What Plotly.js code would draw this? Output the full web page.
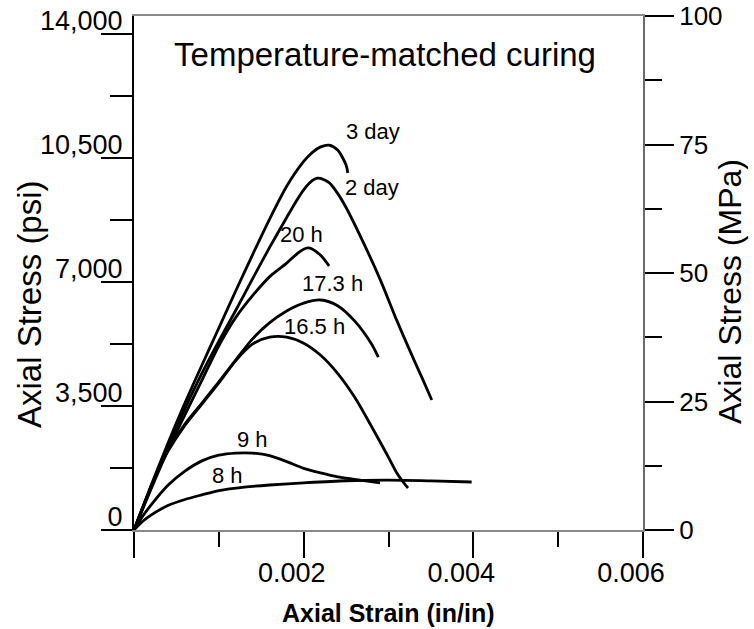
<!DOCTYPE html>
<html>
<head>
<meta charset="utf-8">
<script src="https://cdn.plot.ly/plotly-3.0.1.min.js"></script>
<style>html,body{margin:0;padding:0;background:#fff;}#chart{width:754px;height:629px;}</style>
</head>
<body>
<div id="chart"></div>
<script>
// ---- Data (strain in in/in, stress in psi) ----
const seriesNames = ["3 day", "2 day", "20 h", "17.3 h", "16.5 h", "9 h", "8 h"];

const strain3d = [0, 0.0002, 0.0004, 0.0006, 0.0008, 0.001, 0.0012, 0.0014, 0.0016, 0.0018, 0.002, 0.0021, 0.0022, 0.0023, 0.0024, 0.0025, 0.00252];
const stress3d = [0, 1250, 2450, 3580, 4650, 5700, 6750, 7780, 8780, 9700, 10400, 10650, 10810, 10860, 10720, 10300, 10075];

const strain2d = [0, 0.0002, 0.0004, 0.0006, 0.0008, 0.001, 0.0012, 0.0014, 0.0016, 0.0018, 0.0019, 0.002, 0.0021, 0.00216, 0.0022, 0.0023, 0.0024, 0.0025, 0.0027, 0.0029, 0.0031, 0.0033, 0.0034, 0.00351];
const stress2d = [0, 1200, 2350, 3420, 4420, 5330, 6200, 7100, 7980, 8820, 9230, 9600, 9860, 9930, 9920, 9800, 9500, 9100, 8130, 7080, 5900, 4800, 4270, 3670];

const strain20h = [0, 0.0002, 0.0004, 0.0006, 0.0008, 0.001, 0.0012, 0.0014, 0.0016, 0.0018, 0.0019, 0.002, 0.00205, 0.0021, 0.0022, 0.0023];
const stress20h = [0, 1150, 2250, 3250, 4220, 5200, 6000, 6620, 7150, 7530, 7750, 7920, 7960, 7930, 7750, 7450];

const strain173h = [0, 0.0001, 0.0002, 0.0003, 0.0004, 0.0006, 0.0008, 0.001, 0.0012, 0.0014, 0.0016, 0.0018, 0.002, 0.0022, 0.0024, 0.0026, 0.0028, 0.00288];
const stress173h = [0, 620, 1220, 1780, 2260, 2990, 3580, 4180, 4800, 5400, 5850, 6180, 6400, 6490, 6330, 5900, 5250, 4880];

const strain165h = [0, 0.0001, 0.0002, 0.0003, 0.0004, 0.0006, 0.0008, 0.001, 0.0012, 0.0014, 0.0016, 0.0018, 0.002, 0.0022, 0.0024, 0.0026, 0.0028, 0.003, 0.0031, 0.0032, 0.00323];
const stress165h = [0, 610, 1200, 1750, 2220, 2950, 3550, 4150, 4780, 5250, 5440, 5440, 5270, 4930, 4420, 3750, 2920, 2050, 1600, 1270, 1185];

const strain9h = [0, 0.0001, 0.0002, 0.0004, 0.0006, 0.0008, 0.001, 0.0012, 0.0014, 0.0016, 0.0018, 0.002, 0.0022, 0.0024, 0.0026, 0.0029];
const stress9h = [0, 380, 700, 1260, 1660, 1950, 2110, 2170, 2170, 2100, 1930, 1740, 1610, 1500, 1430, 1330];

const strain8h = [0, 0.0001, 0.0002, 0.0004, 0.0006, 0.0008, 0.001, 0.0013, 0.0016, 0.002, 0.0025, 0.003, 0.0035, 0.00398];
const stress8h = [0, 240, 420, 690, 860, 990, 1110, 1210, 1270, 1330, 1390, 1405, 1385, 1355];

const xTickVals = [0, 0.002, 0.004, 0.006];
const xTickText = ["", "0.002", "0.004", "0.006"];
const yTickVals = [0, 3500, 7000, 10500, 14000];
const yTickText = ["0", "3,500", "7,000", "10,500", "14,000"];
const y2TickVals = [0, 25, 50, 75, 100];
const y2TickText = ["0", "25", "50", "75", "100"];

const PSI_PER_MPA = 145.04;

// ---- Build ----
const FONT = "Liberation Sans, Arial, Helvetica, sans-serif";
const xs = [strain3d, strain2d, strain20h, strain173h, strain165h, strain9h, strain8h];
const ys = [stress3d, stress2d, stress20h, stress173h, stress165h, stress9h, stress8h];

const traces = seriesNames.map((n, i) => ({
  type: "scatter", mode: "lines", name: n,
  x: xs[i], y: ys[i],
  line: {color: "#000", width: 2.8, shape: "spline", smoothing: 0.8},
  showlegend: false, hoverinfo: "skip"
}));

// label placement (data coordinates near each curve)
const labelPos = [
  [0.002817, 11232], [0.002806, 9651], [0.001974, 8325], [0.00234, 6942],
  [0.002122, 5729], [0.001397, 2540], [0.001102, 1552]
];
const annotations = seriesNames.map((n, i) => ({
  text: n, x: labelPos[i][0], y: labelPos[i][1], xref: "x", yref: "y",
  showarrow: false, xanchor: "center", yanchor: "middle",
  font: {family: FONT, size: 22, color: "#000"}
}));
annotations.push({
  text: "Axial Stress (psi)", xref: "paper", yref: "paper",
  x: (29 - 134) / 509, y: (530 - 304) / 514, textangle: -90,
  showarrow: false, xanchor: "center", yanchor: "middle",
  font: {family: FONT, size: 33, color: "#000"}
});
annotations.push({
  text: "Axial Stress (MPa)", xref: "paper", yref: "paper",
  x: (730 - 134) / 509, y: (530 - 292) / 514, textangle: -90,
  showarrow: false, xanchor: "center", yanchor: "middle",
  font: {family: FONT, size: 32, color: "#000"}
});
annotations.push({
  text: "<b>Axial Strain (in/in)</b>", xref: "paper", yref: "paper",
  x: (388 - 134) / 509, y: (530 - 613) / 514,
  showarrow: false, xanchor: "center", yanchor: "middle",
  font: {family: FONT, size: 25, color: "#000"}
});

const yMaxPsi = 100 * PSI_PER_MPA;

const layout = {
  width: 754, height: 629,
  margin: {l: 134, r: 111, t: 16, b: 99, pad: 0},
  paper_bgcolor: "#fff", plot_bgcolor: "#fff",
  showlegend: false,
  title: {
    text: "Temperature-matched curing",
    font: {family: FONT, size: 33, color: "#000"},
    x: 385 / 754, xanchor: "center", xref: "container",
    y: 1 - 54 / 629, yanchor: "middle", yref: "container"
  },
  xaxis: {
    range: [0, 0.006], showgrid: false, zeroline: false,
    showline: true, linecolor: "#8a8a8a", linewidth: 2, mirror: true,
    tickmode: "array", tickvals: xTickVals, ticktext: xTickText,
    ticks: "outside", ticklen: 26, tickwidth: 2, tickcolor: "#000",
    ticklabelshift: -12, ticklabelstandoff: -8,
    tickfont: {family: FONT, size: 27, color: "#000"},
    minor: {dtick: 0.001, tick0: 0, ticks: "outside", ticklen: 15, tickwidth: 2, tickcolor: "#000", showgrid: false},
    fixedrange: true
  },
  yaxis: {
    range: [0, yMaxPsi], showgrid: false, zeroline: false,
    showline: true, linecolor: "#000", linewidth: 2,
    tickmode: "array", tickvals: yTickVals, ticktext: yTickText,
    ticks: "outside", ticklen: 31, tickwidth: 2, tickcolor: "#000",
    ticklabelstandoff: -27, ticklabelshift: -13,
    tickfont: {family: FONT, size: 27, color: "#000"},
    minor: {dtick: 1750, tick0: 0, ticks: "outside", ticklen: 22, tickwidth: 2, tickcolor: "#000", showgrid: false},
    fixedrange: true
  },
  yaxis2: {
    overlaying: "y", side: "right", anchor: "x",
    range: [0, 100], showgrid: false, zeroline: false,
    showline: true, linecolor: "#6a6a6a", linewidth: 2,
    tickmode: "array", tickvals: y2TickVals, ticktext: y2TickText,
    ticks: "outside", ticklen: 29, tickwidth: 2, tickcolor: "#000",
    tickfont: {family: FONT, size: 26, color: "#000"},
    minor: {dtick: 12.5, tick0: 0, ticks: "outside", ticklen: 17, tickwidth: 2, tickcolor: "#000", showgrid: false},
    fixedrange: true
  },
  annotations: annotations
};

// MPa companion trace so the right axis is bound to data (invisible)
traces.push({
  type: "scatter", mode: "lines", name: "3 day (MPa)",
  x: strain3d, y: stress3d.map(v => v / PSI_PER_MPA), yaxis: "y2",
  line: {color: "rgba(0,0,0,0)", width: 0}, showlegend: false, hoverinfo: "skip"
});

Plotly.newPlot("chart", traces, layout, {staticPlot: true, displayModeBar: false});
</script>
</body>
</html>
